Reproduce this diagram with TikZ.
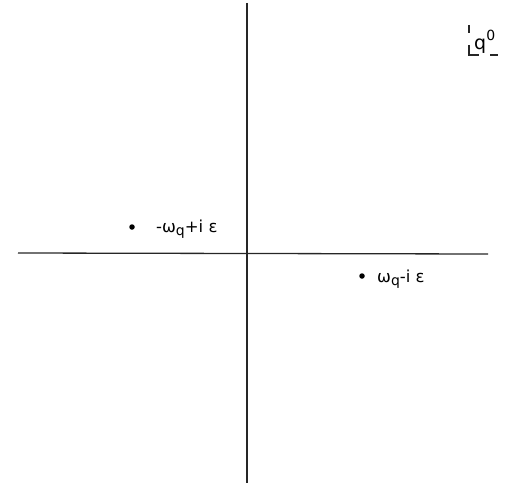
\documentclass[tikz,border=0pt]{standalone}
\usepackage{fontspec}
\setmainfont{DejaVu Sans}
\begin{document}
\begin{tikzpicture}[x=1pt,y=-1pt,
  axis/.style={line width=1.3pt,black!85},
  pole/.style={circle,fill=black,inner sep=0pt,minimum size=5.5pt},
  lbl/.style={anchor=base west,inner sep=0pt,font=\fontsize{16.5}{19}\selectfont},
  bracket/.style={line width=1.1pt,black!85}]
\useasboundingbox (0,0) rectangle (510,487);
\coordinate (xl) at (18,253);
\coordinate (xr) at (488,254);
\coordinate (yt) at (247,3);
\coordinate (yb) at (247,483);
\draw[axis] (xl) -- (xr);
\draw[axis] (yt) -- (yb);
\node[pole] (p1) at (132,227) {};
\node[pole] (p2) at (362,276) {};
\node[lbl] (t1) at (156,232) {-ω\raisebox{-0.4ex}{\fontsize{14}{16}\selectfont q}+i ε};
\node[lbl] (t2) at (377,282) {ω\raisebox{-0.4ex}{\fontsize{14}{16}\selectfont q}-i ε};
\node[lbl,font=\fontsize{19}{22}\selectfont] (t3) at (474,49) {q\raisebox{0.8ex}{\fontsize{14}{16}\selectfont 0}};
\coordinate (c1) at (469,25);
\coordinate (c2) at (469,33);
\coordinate (c3) at (469,45);
\coordinate (c4) at (469,55);
\coordinate (c5) at (479,55);
\coordinate (c6) at (490,55);
\coordinate (c7) at (498,55);
\draw[bracket] (c1) -- (c2);
\draw[bracket] (c3) -- (c4) -- (c5);
\draw[bracket] (c6) -- (c7);
\end{tikzpicture}
\end{document}
